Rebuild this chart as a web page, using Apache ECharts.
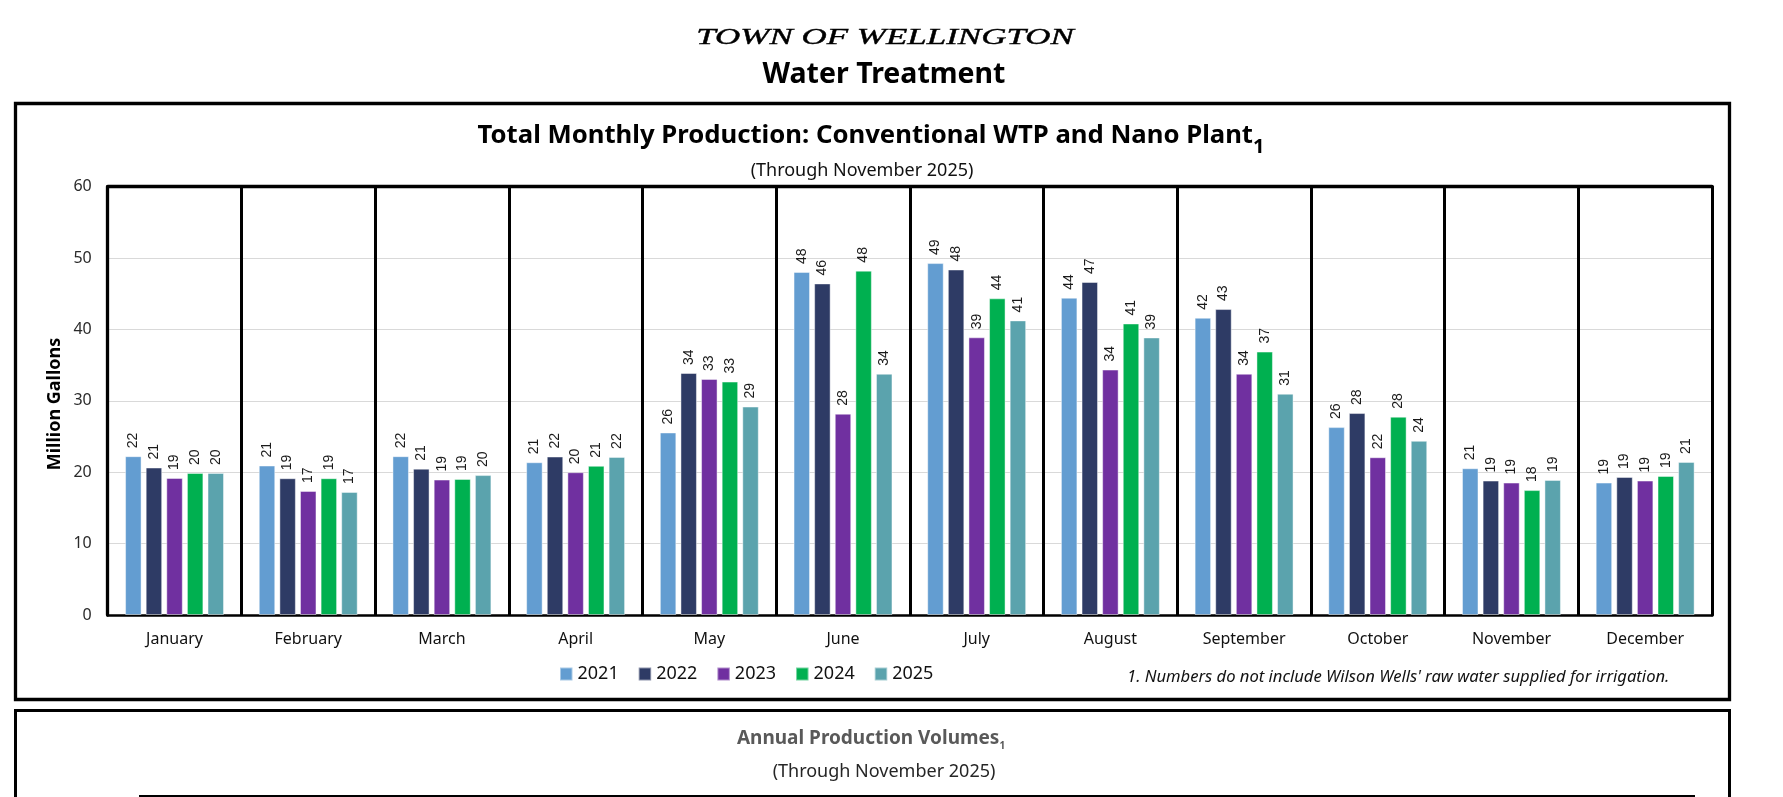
<!DOCTYPE html>
<html>
<head>
<meta charset="utf-8">
<script src="https://cdn.jsdelivr.net/npm/echarts@6/dist/echarts.min.js"></script>
<style>
html,body{margin:0;padding:0;background:#fff;}
#chart{width:1783px;height:797px;}
</style>
</head>
<body>
<div id="chart"></div>
<script>
// ---- data ----
const months = ['January','February','March','April','May','June','July','August','September','October','November','December'];
const seriesNames = ['2021','2022','2023','2024','2025'];
const y2021 = [22.25, 20.94, 22.25, 21.4, 25.57, 48.06, 49.3, 44.45, 41.64, 26.32, 20.56, 18.55];
const y2022 = [20.66, 19.16, 20.5, 22.2, 33.9, 46.45, 48.4, 46.65, 42.86, 28.29, 18.83, 19.34];
const y2023 = [19.2, 17.38, 18.97, 20.0, 33.07, 28.2, 38.9, 34.38, 33.8, 22.1, 18.55, 18.83];
const y2024 = [19.9, 19.16, 19.06, 20.9, 32.7, 48.24, 44.36, 40.84, 36.9, 27.78, 17.5, 19.48];
const y2025 = [19.9, 17.24, 19.6, 22.15, 29.2, 33.8, 41.27, 38.88, 31.0, 24.4, 18.92, 21.45];
const yTicks = [0, 10, 20, 30, 40, 50, 60];

const colors = ['#639DD1', '#2E3B65', '#7030A0', '#00B050', '#5BA3AD'];
const allData = [y2021, y2022, y2023, y2024, y2025];

const chart = echarts.init(document.getElementById('chart'), null, {renderer: 'canvas'});

const series = seriesNames.map((name, i) => ({
  name: name,
  type: 'bar',
  data: allData[i],
  barGap: '25%',
  barCategoryGap: '26%',
  itemStyle: {color: colors[i], borderColor: 'rgba(255,255,255,0.45)', borderWidth: 1},
  label: {
    show: true,
    position: 'top',
    rotate: 90,
    align: 'left',
    verticalAlign: 'middle',
    distance: 8,
    fontFamily: 'Liberation Sans',
    fontSize: 14,
    color: '#1a1a1a',
    formatter: p => String(Math.round(p.value))
  }
}));

const option = {
  animation: false,
  backgroundColor: '#fff',
  color: colors,
  grid: {left: 107.7, right: 71, top: 186.7, bottom: 182, containLabel: false},
  legend: {
    data: seriesNames,
    left: 554,
    top: 660,
    icon: 'rect',
    itemWidth: 12.5,
    itemHeight: 13,
    itemGap: 19,
    textStyle: {fontFamily: 'Noto Sans', fontSize: 18, color: '#111'}
  },
  xAxis: [{
    type: 'category',
    data: months,
    position: 'bottom',
    axisLine: {show: true, lineStyle: {color: '#000', width: 2.5}},
    axisTick: {show: false},
    axisLabel: {fontFamily: 'Noto Sans', fontSize: 16, color: '#111', margin: 16, interval: 0},
    splitLine: {show: true, interval: 0, lineStyle: {color: '#000', width: 3}}
  }, {
    type: 'category',
    data: months,
    position: 'top',
    axisLine: {show: true, onZero: false, lineStyle: {color: '#000', width: 3.3}},
    axisTick: {show: false},
    axisLabel: {show: false},
    splitLine: {show: false}
  }],
  yAxis: [{
    type: 'value',
    min: 0,
    max: 60,
    interval: 10,
    axisLine: {show: true, onZero: false, lineStyle: {color: '#000', width: 3.3}},
    axisTick: {show: false},
    axisLabel: {fontFamily: 'Noto Sans', fontSize: 16, color: '#2a2a2a', margin: 16,
      formatter: v => (yTicks.indexOf(v) >= 0 ? String(v) : '')},
    splitLine: {show: true, showMaxLine: false, showMinLine: false, lineStyle: {color: '#D9D9D9', width: 1}}
  }, {
    type: 'value',
    min: 0,
    max: 60,
    interval: 10,
    position: 'right',
    axisLine: {show: true, onZero: false, lineStyle: {color: '#000', width: 3}},
    axisTick: {show: false},
    axisLabel: {show: false},
    splitLine: {show: false}
  }],
  series: series,
  graphic: [
    // outer box of chart
    {type: 'rect', z: -10, silent: true, shape: {x: 15.5, y: 103.5, width: 1714, height: 596},
      style: {fill: null, stroke: '#000', lineWidth: 3.3}},
    // second box
    {type: 'rect', z: -10, silent: true, shape: {x: 15.5, y: 710.5, width: 1714, height: 120},
      style: {fill: null, stroke: '#000', lineWidth: 3}},
    // bottom line in second box
    {type: 'line', silent: true, shape: {x1: 139, y1: 796, x2: 1695, y2: 796},
      style: {stroke: '#000', lineWidth: 2}},
    // header
    {type: 'text', silent: true, x: 885, y: 38, scaleX: 1.52,
      style: {text: 'TOWN OF WELLINGTON', x: 0, y: 0, align: 'center', verticalAlign: 'middle',
        font: 'italic 23px "Liberation Serif"', fill: '#000', stroke: '#000', lineWidth: 0.4}},
    {type: 'text', silent: true, x: 884, y: 75,
      style: {text: 'Water Treatment', x: 0, y: 0, align: 'center', verticalAlign: 'middle',
        font: 'bold 28.5px "Noto Sans"', fill: '#000'}},
    // chart title
    {type: 'text', silent: true, x: 871, y: 138,
      style: {text: '{m|Total Monthly Production: Conventional WTP and Nano Plant}{s|1}', x: 0, y: 0,
        align: 'center', verticalAlign: 'middle',
        rich: {
          m: {fontFamily: 'Noto Sans', fontWeight: 'bold', fontSize: 25.7, lineHeight: 30, fill: '#000', color: '#000', verticalAlign: 'top'},
          s: {fontFamily: 'Noto Sans', fontWeight: 'bold', fontSize: 20, lineHeight: 30, fill: '#000', color: '#000', verticalAlign: 'top', padding: [14, 0, 0, 0]}
        }}},
    {type: 'text', silent: true, x: 862, y: 171,
      style: {text: '(Through November 2025)', x: 0, y: 0, align: 'center', verticalAlign: 'middle',
        font: '18px "Noto Sans"', fill: '#111'}},
    // y axis name
    {type: 'text', silent: true, x: 55, y: 404, rotation: Math.PI / 2,
      style: {text: 'Million Gallons', x: 0, y: 0, align: 'center', verticalAlign: 'middle',
        font: 'bold 18px "Noto Sans"', fill: '#000'}},
    // footnote
    {type: 'text', silent: true, x: 1127, y: 677,
      style: {text: "1. Numbers do not include Wilson Wells' raw water supplied for irrigation.", x: 0, y: 0,
        align: 'left', verticalAlign: 'middle', font: 'italic 16.6px "Noto Sans"', fill: '#111'}},
    // second chart title
    {type: 'text', silent: true, x: 871, y: 741,
      style: {text: '{m|Annual Production Volumes}{s|1}', x: 0, y: 0, align: 'center', verticalAlign: 'middle',
        rich: {
          m: {fontFamily: 'Noto Sans', fontWeight: 'bold', fontSize: 19, lineHeight: 24, fill: '#595959', color: '#595959', verticalAlign: 'top'},
          s: {fontFamily: 'Noto Sans', fontWeight: 'bold', fontSize: 10, lineHeight: 24, fill: '#595959', color: '#595959', verticalAlign: 'top', padding: [12, 0, 0, 0]}
        }}},
    {type: 'text', silent: true, x: 884, y: 772,
      style: {text: '(Through November 2025)', x: 0, y: 0, align: 'center', verticalAlign: 'middle',
        font: '18px "Noto Sans"', fill: '#262626'}}
  ]
};

chart.setOption(option);
</script>
</body>
</html>
